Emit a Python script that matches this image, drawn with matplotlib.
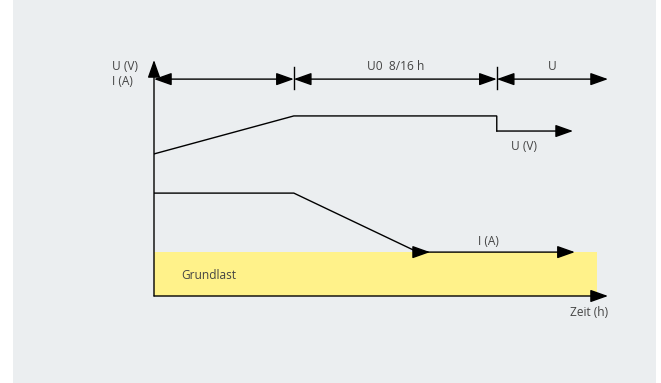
import matplotlib.pyplot as plt
from matplotlib.patches import Rectangle

plt.rcParams['font.family'] = ['Open Sans', 'DejaVu Sans']

# phase boundaries on the time axis (arbitrary units, axis runs 0..10)
phase_t = [0, 3.08, 7.55, 10]
phase_labels = ['', 'U0  8/16 h', 'U']

# voltage curve
u_t = [0, 3.08, 7.55, 7.55, 9.23]
u_v = [6.02, 7.63, 7.63, 6.99, 6.99]

# current curve (diagonal ends at the knee, then a horizontal arrow run)
i_t = [0, 3.08, 5.81, 9.27]
i_v = [4.36, 4.36, 1.86, 1.86]

# base load band
grund_end = 9.76
grund_level = 1.86

txt = '#444444'
fs = 8.6
fig = plt.figure(figsize=(6.61, 3.83), dpi=100, facecolor='white')
bg = Rectangle((13 / 661, 0), 643 / 661, 1, transform=fig.transFigure,
               facecolor='#ebeef0', edgecolor='none', zorder=-10)
fig.add_artist(bg)

ax = fig.add_axes([154 / 661, 87 / 383, 454 / 661, 236 / 383])
ax.set_xlim(0, 10)
ax.set_ylim(0, 10)
ax.axis('off')

ap = dict(arrowstyle='-|>,head_length=0.9,head_width=0.32', color='black', lw=1.0,
          shrinkA=0, shrinkB=0, mutation_scale=12)

# axes with arrows
ax.annotate('', xy=(0, 10), xytext=(0, 0), arrowprops=ap, annotation_clip=False)
ax.annotate('', xy=(10, 0), xytext=(0, 0), arrowprops=ap, annotation_clip=False)

# base load
ax.add_patch(Rectangle((0, 0), grund_end, grund_level, facecolor='#fff28a',
                       edgecolor='none', zorder=0))
ax.text(0.6, 0.85, 'Grundlast', color=txt, fontsize=fs, va='center', ha='left')

# voltage
ax.plot(u_t[:-1], u_v[:-1], color='black', lw=1.0, solid_joinstyle='miter')
ax.annotate('', xy=(u_t[-1], u_v[-1]), xytext=(u_t[-2], u_v[-2]), arrowprops=ap)
ax.text(8.14, 6.35, 'U (V)', color=txt, fontsize=fs, ha='center', va='center')

# current
ax.plot(i_t[:3], i_v[:3], color='black', lw=1.0)
ax.annotate('', xy=(i_t[2] + 0.27, i_v[2]), xytext=(i_t[2], i_v[2]), arrowprops=ap)
ax.annotate('', xy=(i_t[3], i_v[3]), xytext=(i_t[2], i_v[2]), arrowprops=ap)
ax.text(7.36, 2.3, 'I (A)', color=txt, fontsize=fs, ha='center', va='center')

# dimension line with phases
dim_y = 9.19
dp = dict(ap, arrowstyle='<|-|>,head_length=0.9,head_width=0.32')
for a, b, lab in zip(phase_t[:-1], phase_t[1:], phase_labels):
    ax.annotate('', xy=(b, dim_y), xytext=(a, dim_y), arrowprops=dp, annotation_clip=False)
    if lab:
        ax.text((a + b) / 2, 9.72, lab, color=txt, fontsize=fs, ha='center', va='center')
for t in phase_t[1:-1]:
    ax.plot([t, t], [8.77, 9.7], color='black', lw=1.0, clip_on=False)

# axis labels
ax.text(-0.92, 10.0, 'U (V)\nI (A)', color=txt, fontsize=fs, ha='left', va='top',
        linespacing=1.2)
ax.text(10, -0.72, 'Zeit (h)', color=txt, fontsize=fs, ha='right', va='center')

fig.savefig('out.png', dpi=100, facecolor=fig.get_facecolor())
